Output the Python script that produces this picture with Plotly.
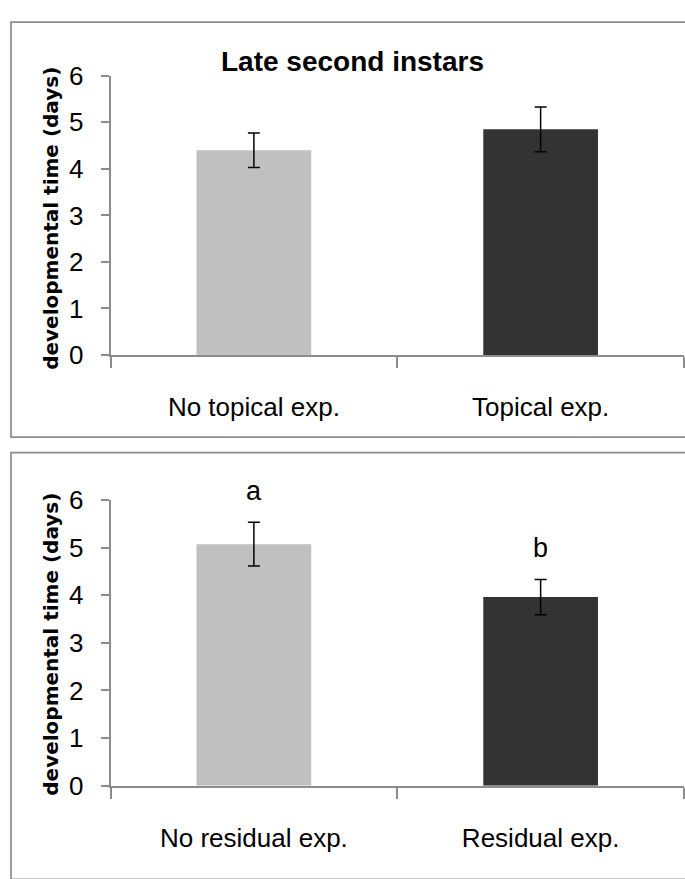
import plotly.graph_objects as go

# ---- data -------------------------------------------------------------
topical_labels = ["No topical exp.", "Topical exp."]
topical_means = [4.40, 4.85]
topical_se = [0.37, 0.48]

residual_labels = ["No residual exp.", "Residual exp."]
residual_means = [5.07, 3.96]
residual_se = [0.46, 0.37]
residual_letters = ["a", "b"]

bar_colors = ["#C0C0C0", "#333333"]
y_ticks = [0, 1, 2, 3, 4, 5, 6]

W, H = 685, 879
AXIS_GRAY = "#8c8c8c"
SANS = "Liberation Sans, Arial, sans-serif"


def px_x(x):
    return x / W


def px_y(y):
    return 1 - y / H


fig = go.Figure()

# bars with standard-error whiskers, one panel per experiment
for labels, means, se, xa, ya in [
    (topical_labels, topical_means, topical_se, "x", "y"),
    (residual_labels, residual_means, residual_se, "x2", "y2"),
]:
    fig.add_trace(go.Bar(
        x=labels, y=means, width=0.4,
        marker=dict(color=bar_colors, line=dict(width=0)),
        error_y=dict(type="data", array=se, visible=True,
                     color="#000000", thickness=1.5, width=6),
        xaxis=xa, yaxis=ya, showlegend=False,
    ))

x_common = dict(
    type="category", range=[-0.5, 1.5], tickson="boundaries",
    ticks="outside", ticklen=11, tickwidth=1.5, tickcolor=AXIS_GRAY,
    showline=True, linecolor=AXIS_GRAY, linewidth=1.5,
    showgrid=False, zeroline=False,
    tickfont=dict(family=SANS, size=26, color="#000000"),
    ticklabelstandoff=28, fixedrange=True,
)
y_common = dict(
    range=[0, 6], tickvals=y_ticks, ticks="outside", ticklen=8,
    tickwidth=1.5, tickcolor=AXIS_GRAY, showline=True, linecolor=AXIS_GRAY,
    linewidth=1.5, showgrid=False, zeroline=False,
    tickfont=dict(family=SANS, size=26, color="#000000"),
    ticklabelstandoff=12, fixedrange=True,
)

x_dom = [px_x(110.5), px_x(684)]

fig.update_layout(
    width=W, height=H,
    margin=dict(l=0, r=0, t=0, b=0),
    paper_bgcolor="#ffffff", plot_bgcolor="#ffffff",
    xaxis=dict(domain=x_dom, anchor="y", **x_common),
    yaxis=dict(domain=[px_y(352), px_y(63)], anchor="x", **y_common),
    xaxis2=dict(domain=x_dom, anchor="y2", **x_common),
    yaxis2=dict(domain=[px_y(798), px_y(502)], anchor="x2", **y_common),
    bargap=0.6,
)

# panel frames
for top, bottom in [(7.3, 437), (453, 895)]:
    fig.add_shape(type="rect", xref="paper", yref="paper",
                  x0=px_x(11), x1=1.02, y0=px_y(bottom), y1=px_y(top),
                  line=dict(color=AXIS_GRAY, width=1.7), fillcolor="rgba(0,0,0,0)")

# panel title
fig.add_annotation(text="<b>Late second instars</b>", xref="paper", yref="paper",
                   x=px_x(353), y=px_y(48.5), xanchor="center", yanchor="middle",
                   showarrow=False,
                   font=dict(family=SANS, size=28, color="#000000"))

# y axis titles
for yc in (211, 652):
    fig.add_annotation(text="<b>developmental time (days)</b>", xref="paper", yref="paper",
                       x=px_x(51), y=px_y(yc), xanchor="center", yanchor="middle",
                       textangle=-90, showarrow=False,
                       font=dict(family="DejaVu Sans, Verdana, sans-serif", size=20, color="#000000"))

# significance letters above the whiskers
for lab, m, e, letter in zip(residual_labels, residual_means, residual_se, residual_letters):
    fig.add_annotation(text=letter, x=lab, y=m + e, xref="x2", yref="y2",
                       yanchor="bottom", yshift=14, showarrow=False,
                       font=dict(family=SANS, size=27, color="#000000"))

fig.write_html("out.html")
